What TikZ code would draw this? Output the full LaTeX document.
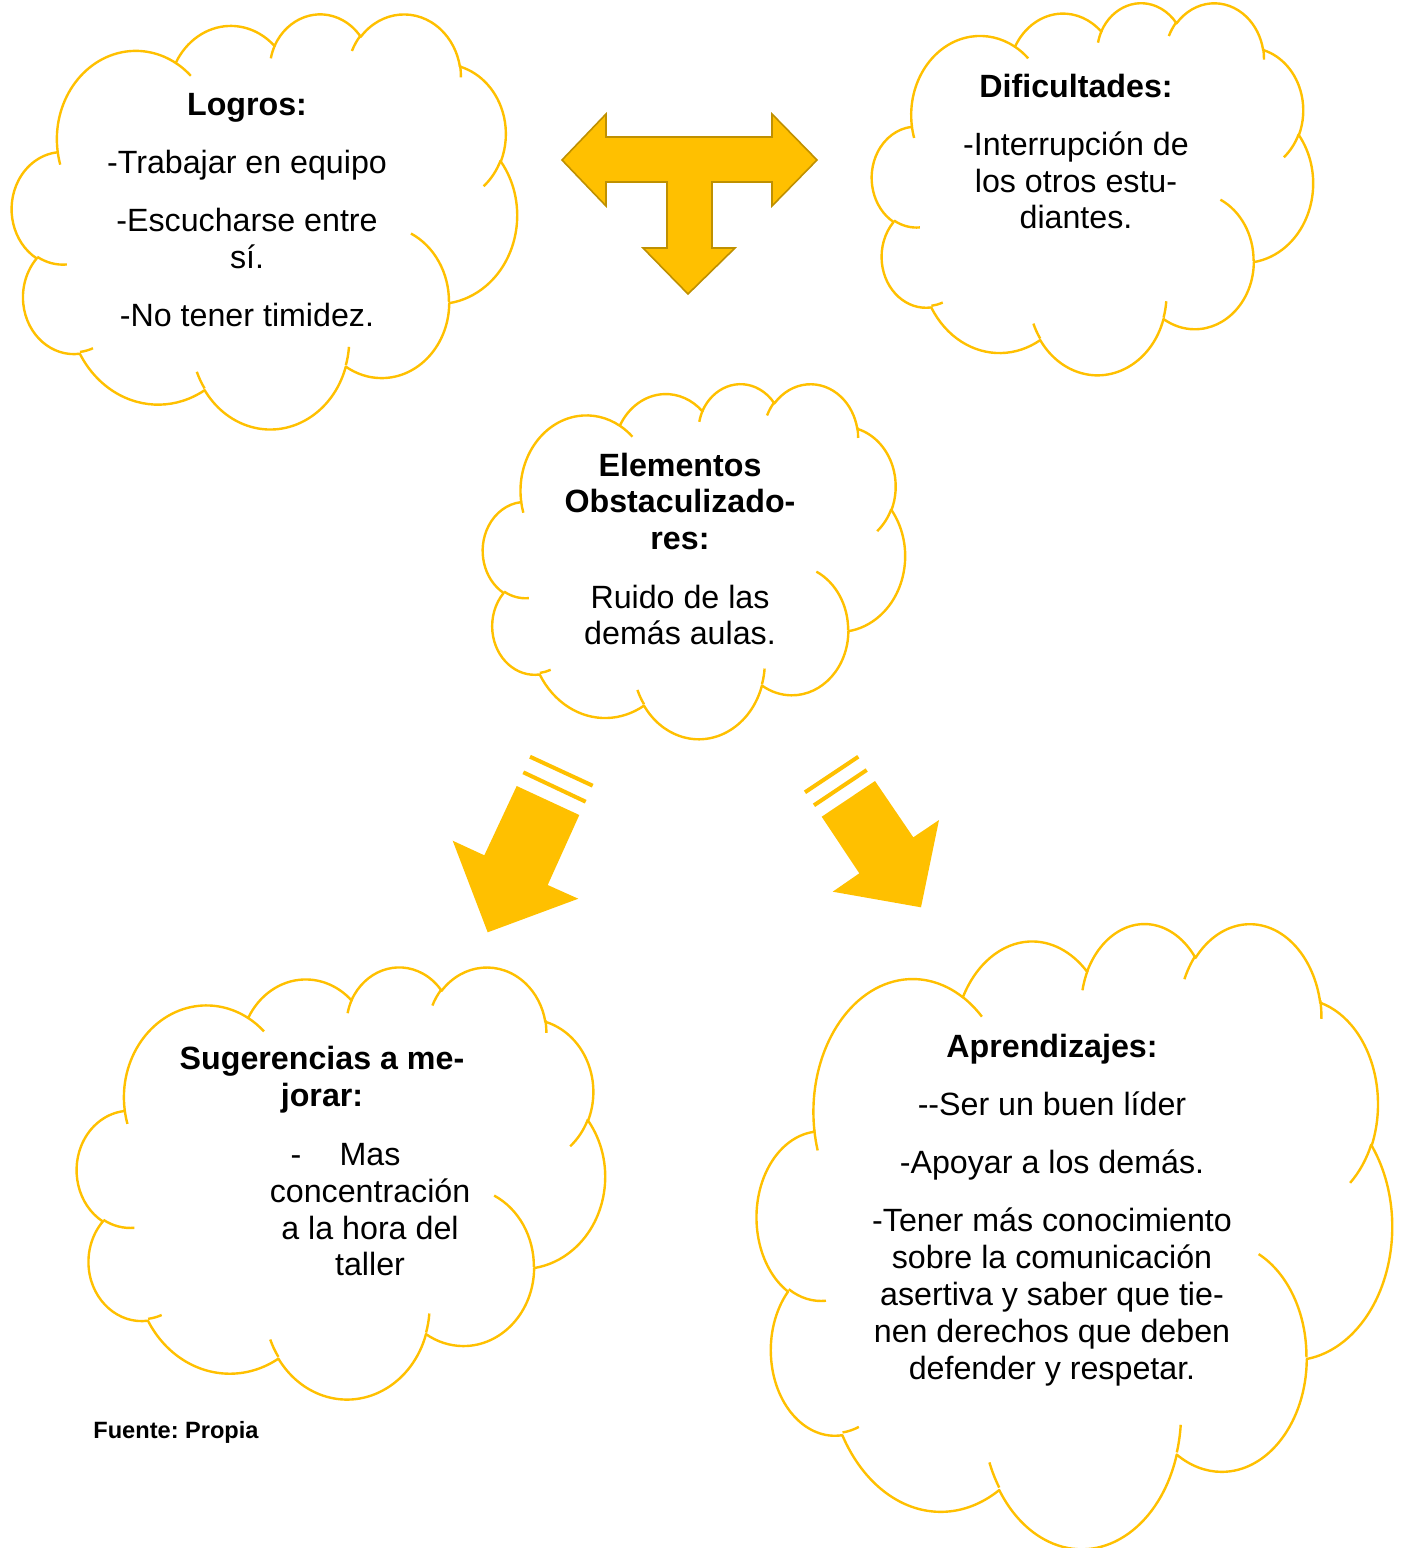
\documentclass[tikz,border=0pt]{standalone}
\usepackage{fontspec}
\setmainfont{Liberation Sans}
\frenchspacing
\definecolor{gold}{HTML}{FFC000}
\definecolor{golddark}{HTML}{BF9000}

% ---- cloud outline, built once in a 432 x 432 box (y pointing down) ----
\makeatletter
\newcommand\cldarc[4]{% wR hR start sweep (angles measured as seen, in degrees)
  \pgfmathsetmacro\cld@a{atan2(#1*sin(#3),#2*cos(#3))}%
  \pgfmathsetmacro\cld@b{atan2(#1*sin(#3+#4),#2*cos(#3+#4))}%
  \pgfmathsetmacro\cld@d{\cld@b-\cld@a}%
  \pgfmathsetmacro\cld@d{\cld@d+360*round((#4-\cld@d)/360)}%
  \xdef\cld@path{\cld@path arc[x radius=#1,y radius=#2,start angle=\cld@a,delta angle=\cld@d]}%
}
\newcommand\cldmove[2]{\xdef\cld@path{\cld@path (#1,#2)}}
% outer contour
\gdef\cld@path{}
\cldmove{39.00}{143.70}
\cldarc{67.53}{91.90}{-190.4875}{123.7805}
\cldarc{53.33}{72.67}{-144.1024}{89.9452}
\cldarc{43.65}{59.45}{-145.8079}{99.7230}
\cldarc{48.57}{65.95}{-130.9861}{117.2417}
\cldarc{53.33}{72.73}{-78.7089}{109.0269}
\cldarc{67.75}{92.20}{-46.2673}{130.2690}
\cldarc{57.85}{78.67}{0.6250}{114.0333}
\cldarc{67.52}{92.15}{22.4516}{115.1726}
\cldarc{77.20}{105.43}{66.2426}{75.7110}
\cldarc{43.60}{59.18}{-274.9421}{146.7356}
\cldarc{43.45}{59.45}{-246.8285}{152.5189}
\global\let\cloudouter\cld@path
% inner bump lines
\gdef\cld@path{}
\cldmove{46.93}{261.77}\cldarc{43.45}{59.45}{86.7420}{26.4295}
\cldmove{69.28}{348.99}\cldarc{43.60}{59.18}{73.6105}{11.4475}
\cldmove{164.78}{390.90}\cldarc{67.52}{92.15}{137.6242}{14.0811}
\cldmove{288.27}{347.51}\cldarc{67.52}{92.15}{6.4533}{15.9984}
\cldmove{341.29}{229.54}\cldarc{57.85}{78.67}{-70.2924}{70.9174}
\cldmove{417.98}{153.54}\cldarc{53.33}{72.73}{30.3180}{27.7515}
\cldmove{383.24}{54.26}\cldarc{48.57}{65.95}{-13.7443}{14.8589}
\cldmove{290.78}{39.52}\cldarc{48.57}{65.95}{-149.1815}{18.1954}
\cldmove{221.41}{47.20}\cldarc{43.65}{59.45}{-163.4943}{17.6864}
\cldmove{140.00}{51.92}\cldarc{67.53}{91.90}{-66.7070}{12.3194}
\cldmove{41.27}{157.89}\cldarc{67.53}{91.90}{157.6544}{11.8582}
\global\let\cloudinner\cld@path
\makeatother

% cloud filling the box (x0,y0)-(x1,y1), given in pixels
\newcommand\cloudbox[4]{%
  \pgfmathsetmacro\cldw{(#3-#1)/432*0.5}%
  \pgfmathsetmacro\cldh{(#4-#2)/432*0.5}%
  \begin{scope}[shift={(#1,#2)},x=\cldw pt,y=-\cldh pt]
    \draw[cloudline,fill=white] \cloudouter -- cycle;
    \draw[cloudline] \cloudinner;
  \end{scope}%
}

\tikzset{
  cloudline/.style={draw=gold,line width=1.2pt,line join=round},
  body/.style={font=\fontsize{16.1}{18.4}\selectfont,anchor=base,inner sep=0pt},
  head/.style={body,font=\fontsize{16.1}{18.4}\selectfont\bfseries},
  bigarrow/.style={fill=gold,draw=golddark,line width=0.8pt,line join=miter},
  slantarrow/.style={fill=gold,draw=none},
  stripe/.style={draw=gold,line width=2pt},
}

\begin{document}
\begin{tikzpicture}[x=0.5pt,y=-0.5pt]
\useasboundingbox (0,0) rectangle (1402,1548);

% clouds
\cloudbox{12}{13}{517}{428}
\cloudbox{872}{2}{1313}{374}
\cloudbox{483}{383}{905}{738}
\cloudbox{77}{966}{605}{1398}
\cloudbox{757}{922}{1392}{1547}

% three-way arrow
\draw[bigarrow] (562,160) -- (606,114) -- (606,137) -- (772,137) -- (772,114)
  -- (817,160) -- (772,206) -- (772,182) -- (712,182) -- (712,248) -- (735,248)
  -- (688,294) -- (643,248) -- (667,248) -- (667,182) -- (606,182) -- (606,206) -- cycle;

% striped arrow, lower left
\fill[slantarrow] (516.7,786) -- (579.3,815) -- (547.7,885) -- (578.3,898.7)
  -- (487.7,932.3) -- (452.7,840.7) -- (484.3,855.3) -- cycle;
\draw[stripe] (530,756.7) -- (592.7,785.7);
\draw[stripe] (523.3,772.3) -- (585.7,801.7);

% striped arrow, lower right
\fill[slantarrow] (875,781) -- (913.3,837.3) -- (939,820) -- (921,907.3)
  -- (832.7,891.7) -- (859.3,873.3) -- (821.7,816.7) -- cycle;
\draw[stripe] (805,792.3) -- (858.3,756.7);
\draw[stripe] (814,805.3) -- (866.7,770);

% Logros
\node[head] (logros-h) at (247,115) {Logros:};
\foreach \ty/\tx [count=\i] in {173/-Trabajar en equipo,231/-Escucharse entre,268/sí.,326/-No tener timidez.}
  \node[body] (logros-\i) at (247,\ty) {\tx};

% Dificultades
\node[head] (dific-h) at (1076,97) {Dificultades:};
\foreach \ty/\tx [count=\i] in {155/-Interrupción de,192/los otros estu-,228/diantes.}
  \node[body] (dific-\i) at (1076,\ty) {\tx};

% Elementos obstaculizadores
\foreach \ty/\tx [count=\i] in {476/Elementos,512/Obstaculizado-,549/res:}
  \node[head] (obst-h\i) at (680,\ty) {\tx};
\foreach \ty/\tx [count=\i] in {608/Ruido de las,644/demás aulas.}
  \node[body] (obst-\i) at (680,\ty) {\tx};

% Sugerencias
\foreach \ty/\tx [count=\i] in {1069/Sugerencias a me-,1106/jorar:}
  \node[head] (sug-h\i) at (322,\ty) {\tx};
\node[body] (sug-dash) at (296,1165) {-};
\foreach \ty/\tx [count=\i] in {1165/Mas,1202/concentración,1239/a la hora del,1275/taller}
  \node[body] (sug-\i) at (370,\ty) {\tx};

% Aprendizajes
\node[head] (apr-h) at (1052,1057) {Aprendizajes:};
\foreach \ty/\tx [count=\i] in {1115/-{}-Ser un buen líder,1173/-Apoyar a los demás.,1231/-Tener más conocimiento,1268/sobre la comunicación,1305/asertiva y saber que tie-,1342/nen derechos que deben,1379/defender y respetar.}
  \node[body] (apr-\i) at (1052,\ty) {\tx};

% source note
\node[font=\fontsize{11.8}{14}\selectfont\bfseries,anchor=base west,inner sep=0pt] (fuente) at (93,1438) {Fuente: Propia};
\end{tikzpicture}
\end{document}
